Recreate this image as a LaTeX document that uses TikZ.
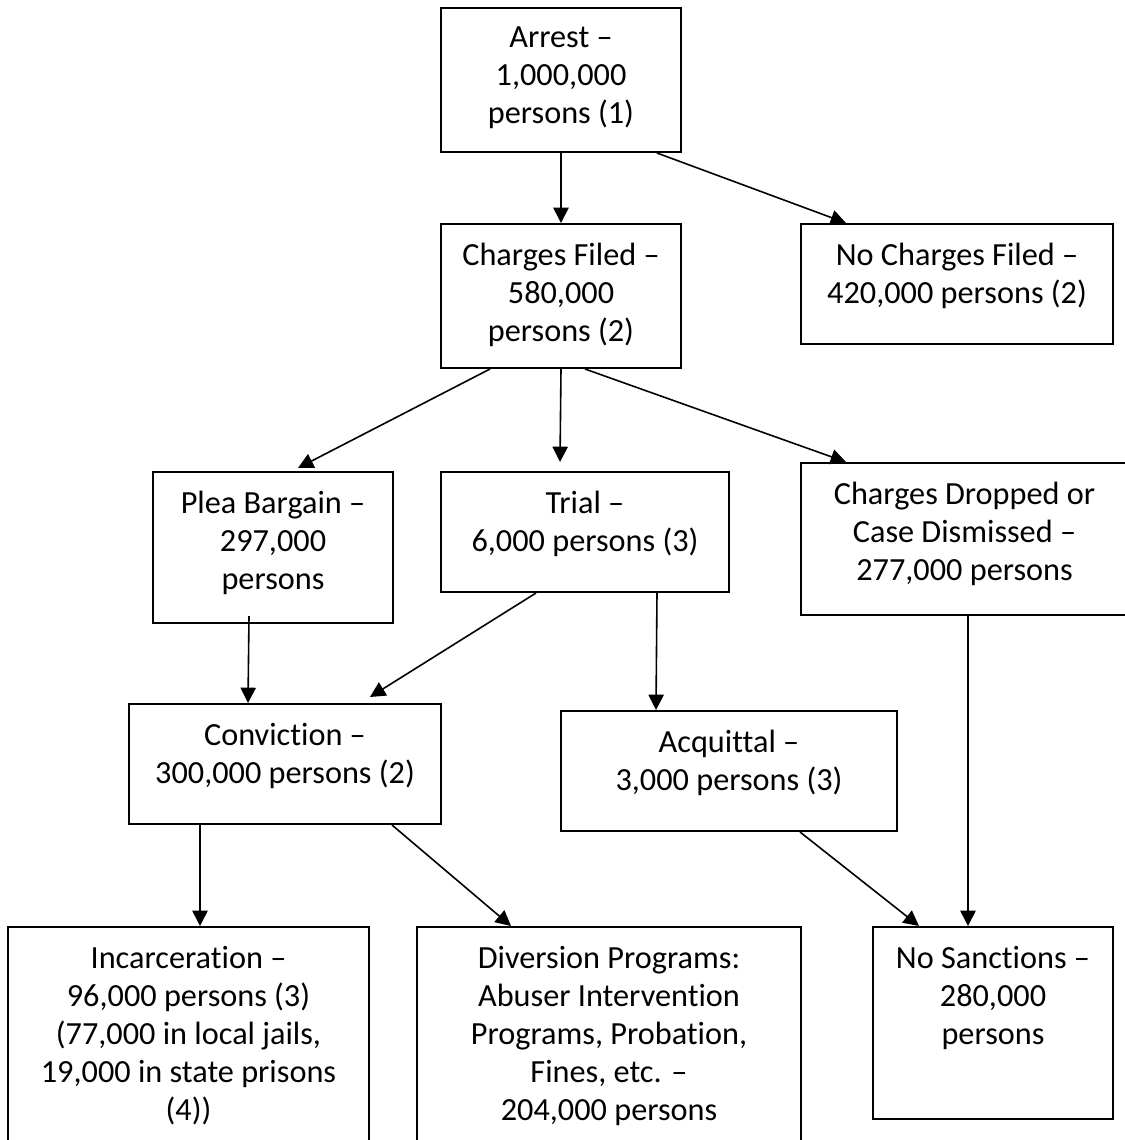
\documentclass[tikz,border=0pt]{standalone}
\usepackage{fontspec}
\setmainfont{Carlito}[Ligatures=NoCommon]
\usetikzlibrary{arrows.meta,fit}
\begin{document}
\begin{tikzpicture}[
    x=0.75pt, y=-0.75pt,
    font=\fontsize{24.2}{28.5}\selectfont,
    stagebox/.style={draw, line width=1.5pt, inner sep=0pt},
    stagetext/.style={align=center, anchor=north, inner sep=0pt},
    flow/.style={line width=1.2pt, -{Triangle[length=11.5pt, width=11.5pt]}},
]
    \useasboundingbox (0,0) rectangle (1125,1140);

    % Stage boxes (pixel corners)
    \node[stagebox, fit={(441,8) (681,152)}]     (arrest)  {};
    \node[stagebox, fit={(441,224) (681,368)}]   (filed)   {};
    \node[stagebox, fit={(801,224) (1113,344)}]  (nofiled) {};
    \node[stagebox, fit={(153,472) (393,623)}]   (plea)    {};
    \node[stagebox, fit={(441,472) (729,592)}]   (trial)   {};
    \node[stagebox, fit={(801,463) (1128,615)}]  (dropped) {};
    \node[stagebox, fit={(129,704) (441,824)}]   (conv)    {};
    \node[stagebox, fit={(561,711) (897,831)}]   (acq)     {};
    \node[stagebox, fit={(8,927) (369,1160)}]    (incar)   {};
    \node[stagebox, fit={(417,927) (801,1160)}]  (div)     {};
    \node[stagebox, fit={(873,927) (1113,1119)}] (nosanc)  {};

    % Box texts (top aligned)
    \node[stagetext] (arrest-t)  at ([shift={(0,20)}]arrest.north)  {Arrest –\\1,000,000\\persons (1)};
    \node[stagetext] (filed-t)   at ([shift={(0,20)}]filed.north)   {Charges Filed –\\580,000\\persons (2)};
    \node[stagetext] (nofiled-t) at ([shift={(0,20)}]nofiled.north) {No Charges Filed –\\420,000 persons (2)};
    \node[stagetext] (plea-t)    at ([shift={(0,20)}]plea.north)    {Plea Bargain –\\297,000\\persons};
    \node[stagetext] (trial-t)   at ([shift={(0,20)}]trial.north)   {Trial –\\6,000 persons (3)};
    \node[stagetext] (dropped-t) at ([shift={(0,20)}]dropped.north) {Charges Dropped or\\Case Dismissed –\\277,000 persons};
    \node[stagetext] (conv-t)    at ([shift={(0,20)}]conv.north)    {Conviction –\\300,000 persons (2)};
    \node[stagetext] (acq-t)     at ([shift={(0,20)}]acq.north)     {Acquittal –\\3,000 persons (3)};
    \node[stagetext] (incar-t)   at ([shift={(0,20)}]incar.north)   {Incarceration –\\96,000 persons (3)\\(77,000 in local jails,\\19,000 in state prisons\\(4))};
    \node[stagetext] (div-t)     at ([shift={(0,20)}]div.north)     {Diversion Programs:\\Abuser Intervention\\Programs, Probation,\\Fines, etc. –\\204,000 persons};
    \node[stagetext] (nosanc-t)  at ([shift={(0,20)}]nosanc.north)  {No Sanctions –\\280,000\\persons};

    % Flows
    \draw[flow] (arrest.south) -- (filed.north);
    \draw[flow] ([shift={(96,0)}]arrest.south) -- ([shift={(46,0)}]nofiled.north west);
    \draw[flow] ([shift={(-71,0)}]filed.south) -- ([shift={(25,-3)}]plea.north);
    \draw[flow] (filed.south) -- ([shift={(120,-9)}]trial.north west);
    \draw[flow] ([shift={(24,0)}]filed.south) -- ([shift={(46,0)}]dropped.north west);
    \draw[flow] ([shift={(-24,-8)}]plea.south) -- ([shift={(120,0)}]conv.north west);
    \draw[flow] ([shift={(96,0)}]trial.south west) -- ([shift={(-72,-6)}]conv.north east);
    \draw[flow] ([shift={(72,0)}]trial.south) -- ([shift={(96,0)}]acq.north west);
    \draw[flow] ([shift={(168,0)}]dropped.south west) -- ([shift={(96,0)}]nosanc.north west);
    \draw[flow] ([shift={(72,0)}]conv.south west) -- ([shift={(193,0)}]incar.north west);
    \draw[flow] ([shift={(264,0)}]conv.south west) -- ([shift={(95,0)}]div.north west);
    \draw[flow] ([shift={(240,0)}]acq.south west) -- ([shift={(47,0)}]nosanc.north west);
\end{tikzpicture}
\end{document}
